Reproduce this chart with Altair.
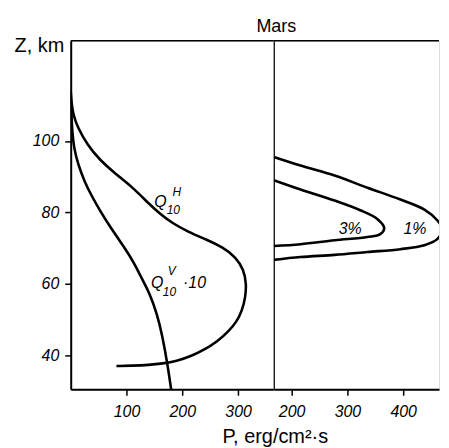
import altair as alt
import pandas as pd

FONT = "Liberation Sans"

# ---- Left panel: Z (km) vs P (erg/cm^2 s) ----
qh_p = [0, 1, 5, 12, 30, 52, 80, 111, 141, 160, 182, 210, 243, 273, 296, 310, 315, 313, 307, 298, 282, 262, 240, 215, 190, 165, 140, 110, 82]
qh_z = [114, 111, 107, 104, 98.8, 94.7, 90.8, 87, 82.3, 79.6, 77, 74.6, 72.4, 70.2, 67.5, 64, 60, 56, 52.5, 49.5, 46.5, 43.8, 41.6, 39.7, 38.4, 37.7, 37.3, 37.1, 37]
qv_p = [0, 1, 3, 6, 13, 25, 38, 52, 70, 100, 113, 129, 141, 155, 164, 173, 180]
qv_z = [114, 108, 102, 98, 93.5, 88.5, 84.5, 80.6, 76.1, 69.3, 66, 61, 57.5, 51.5, 45.6, 38, 30.5]

# ---- Right panel: closed loops ----
p1_p = [168, 216, 277, 336, 395, 438, 461, 470, 461, 438, 395, 336, 277, 216, 168]
p1_z = [95.5, 93.1, 90.3, 86.9, 83.6, 80.8, 77.8, 75.3, 72.5, 70.8, 69.7, 68.9, 68.1, 67.5, 66.7]
p3_p = [168, 216, 277, 323, 354, 366, 359, 336, 277, 216, 168]
p3_z = [89, 86.4, 83.3, 80.6, 78.1, 75.6, 73.9, 73.1, 72.2, 71.1, 70.6]

left_ticks = [100, 200, 300]
right_ticks = [200, 300, 400]
z_ticks = [40, 60, 80, 100]
z_domain = [30.5, 128]
left_domain = [0, 364]
right_domain = [168, 464.2]

# annotation texts (data coordinates)
main_lbl_t = ["Q", "Q", "·10"]
main_lbl_p = [161, 155, 222]
main_lbl_z = [82.8, 60.3, 60.3]
sub_lbl_t = ["10", "H", "10", "V"]
sub_lbl_p = [184, 190, 177, 181]
sub_lbl_z = [80.6, 85.6, 57.6, 63.6]
pct_t = ["3%", "1%"]
pct_p = [305, 421]
pct_z = [75.4, 75.4]
head_t = ["Mars"]
head_p = [172.5]
head_z = [130.5]
# invisible anchor that fixes the top edge of the figure above the frame
anchor_p = [300]
anchor_z = [136.36]


def curves(pairs):
    rows = []
    for name, ps, zs in pairs:
        for i, (p, z) in enumerate(zip(ps, zs)):
            rows.append({"curve": name, "p": p, "z": z, "i": i})
    return pd.DataFrame(rows)


df_left = curves([("QH", qh_p, qh_z), ("QV", qv_p, qv_z)])
df_right = curves([("1%", p1_p, p1_z), ("3%", p3_p, p3_z)])

y_scale = alt.Scale(domain=z_domain, nice=False, zero=False)
xl_scale = alt.Scale(domain=left_domain, nice=False, zero=False)
xr_scale = alt.Scale(domain=right_domain, nice=False, zero=False)

x_axis_common = dict(domainWidth=2, tickWidth=1.5, tickSize=6, labelFontSize=16,
                     labelFontStyle="italic", labelPadding=8, labelFont=FONT,
                     domainColor="black", tickColor="black", labelColor="black", grid=False)

left_x_axis = alt.Axis(values=left_ticks, title="P, erg/cm²·s", titleX=205, titleY=53,
                       titleAlign="center", titleBaseline="alphabetic", titleFontSize=20,
                       titleFontWeight="normal", titleFont=FONT, titleColor="black",
                       **x_axis_common)
right_x_axis = alt.Axis(values=right_ticks, title=None, **x_axis_common)

left_y_axis = alt.Axis(values=z_ticks, title="Z, km", titleAngle=0, titleAlign="right",
                       titleBaseline="alphabetic", titleX=-7, titleY=11, titleFontSize=20,
                       titleFontWeight="normal", titleFont=FONT, titleColor="black",
                       domainWidth=2, tickWidth=1.5, tickSize=6, labelFontSize=16,
                       labelFontStyle="italic", labelPadding=6, labelFont=FONT,
                       domainColor="black", tickColor="black", labelColor="black", grid=False)
right_y_axis = alt.Axis(values=z_ticks, title=None, labels=False, ticks=False,
                        domainWidth=1.2, domainColor="black", grid=False)

top_df = pd.DataFrame({"z": [z_domain[1]]})

# ---- left chart ----
left_lines = alt.Chart(df_left).mark_line(color="black", strokeWidth=2.6,
                                          interpolate="basis", clip=True).encode(
    x=alt.X("p:Q", scale=xl_scale, axis=left_x_axis),
    y=alt.Y("z:Q", scale=y_scale, axis=left_y_axis),
    detail="curve:N",
    order="i:Q",
)
left_top = alt.Chart(top_df).mark_rule(color="black", strokeWidth=1.5).encode(
    y=alt.Y("z:Q", scale=y_scale))
main_lbl = alt.Chart(pd.DataFrame({"t": main_lbl_t, "p": main_lbl_p, "z": main_lbl_z})).mark_text(
    font=FONT, fontSize=16, fontStyle="italic", color="black").encode(
    x=alt.X("p:Q", scale=xl_scale), y=alt.Y("z:Q", scale=y_scale), text="t:N")
sub_lbl = alt.Chart(pd.DataFrame({"t": sub_lbl_t, "p": sub_lbl_p, "z": sub_lbl_z})).mark_text(
    font=FONT, fontSize=12, fontStyle="italic", color="black").encode(
    x=alt.X("p:Q", scale=xl_scale), y=alt.Y("z:Q", scale=y_scale), text="t:N")

left = alt.layer(left_lines, left_top, main_lbl, sub_lbl).properties(width=204, height=350)

# ---- right chart ----
right_lines = alt.Chart(df_right).mark_line(color="black", strokeWidth=2.6,
                                            interpolate="catmull-rom", clip=True).encode(
    x=alt.X("p:Q", scale=xr_scale, axis=right_x_axis),
    y=alt.Y("z:Q", scale=y_scale, axis=right_y_axis),
    detail="curve:N",
    order="i:Q",
)
right_top = alt.Chart(top_df).mark_rule(color="black", strokeWidth=1.5).encode(
    y=alt.Y("z:Q", scale=y_scale))
pct_lbl = alt.Chart(pd.DataFrame({"t": pct_t, "p": pct_p, "z": pct_z})).mark_text(
    font=FONT, fontSize=16, fontStyle="italic", color="black").encode(
    x=alt.X("p:Q", scale=xr_scale), y=alt.Y("z:Q", scale=y_scale), text="t:N")
head_lbl = alt.Chart(pd.DataFrame({"t": head_t, "p": head_p, "z": head_z})).mark_text(
    font=FONT, fontSize=18, baseline="alphabetic", align="center", color="black").encode(
    x=alt.X("p:Q", scale=xr_scale), y=alt.Y("z:Q", scale=y_scale), text="t:N")
anchor = alt.Chart(pd.DataFrame({"p": anchor_p, "z": anchor_z})).mark_point(
    opacity=0, size=1, strokeWidth=0, filled=True).encode(
    x=alt.X("p:Q", scale=xr_scale), y=alt.Y("z:Q", scale=y_scale))

right = alt.layer(right_lines, right_top, pct_lbl, head_lbl, anchor).properties(width=166, height=350)

chart = alt.hconcat(left, right, spacing=0, bounds="flush").properties(
    padding={"left": 5, "top": 0, "right": 0, "bottom": 0}
).configure_view(stroke=None).configure(background="white")

chart.save("out.html", embed_options={"renderer": "svg", "actions": False})
